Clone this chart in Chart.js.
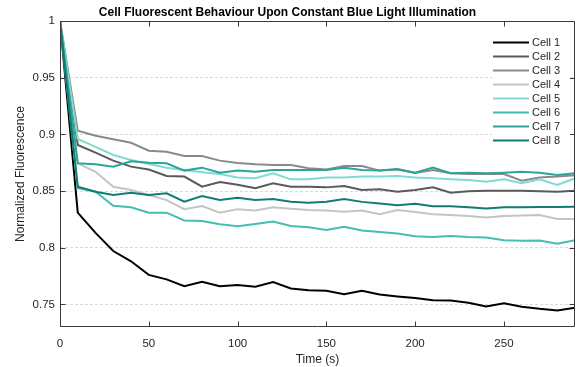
<!DOCTYPE html>
<html><head><meta charset="utf-8">
<script src="https://cdn.jsdelivr.net/npm/chart.js@4.4.1/dist/chart.umd.min.js"></script>
<style>html,body{margin:0;padding:0;background:#fff}canvas{display:block}</style>
</head><body>
<canvas id="c" width="576" height="367"></canvas>
<script>
const times = [0,10,20,30,40,50,60,70,80,90,100,110,120,130,140,150,160,170,180,190,200,210,220,230,240,250,260,270,280,290];
const seriesNames = ['Cell 1','Cell 2','Cell 3','Cell 4','Cell 5','Cell 6','Cell 7','Cell 8'];
const cell1 = [1,0.831,0.813,0.797,0.788,0.776,0.772,0.766,0.770,0.766,0.767,0.7655,0.7696,0.764,0.7625,0.762,0.759,0.762,0.7587,0.757,0.7555,0.7537,0.7534,0.7513,0.748,0.751,0.7478,0.746,0.7446,0.747];
const cell2 = [1,0.8906,0.8838,0.8768,0.8715,0.869,0.8632,0.8627,0.8538,0.858,0.8556,0.8524,0.8568,0.8538,0.8538,0.8532,0.8544,0.8509,0.8515,0.8494,0.8509,0.8532,0.8485,0.8497,0.8503,0.8503,0.8503,0.8497,0.8494,0.8503];
const cell3 = [1,0.9032,0.8988,0.8956,0.8926,0.8856,0.8847,0.8809,0.8809,0.8768,0.8747,0.8735,0.873,0.873,0.870,0.869,0.872,0.872,0.868,0.869,0.866,0.8685,0.8656,0.865,0.865,0.865,0.8591,0.862,0.8627,0.864];
const cell4 = [1,0.8744,0.867,0.8538,0.8509,0.8465,0.842,0.8339,0.8368,0.8309,0.834,0.8327,0.8356,0.8344,0.8333,0.8327,0.8318,0.8328,0.8294,0.8332,0.8315,0.8295,0.8288,0.828,0.8266,0.828,0.8284,0.8288,0.8254,0.8252];
const cell5 = [1,0.8959,0.889,0.8818,0.8774,0.8738,0.8706,0.8685,0.8665,0.865,0.862,0.8612,0.8656,0.8603,0.8603,0.862,0.862,0.8627,0.8627,0.8632,0.862,0.8612,0.8603,0.8597,0.8582,0.8603,0.8568,0.8603,0.8553,0.8612];
const cell6 = [1,0.8524,0.8494,0.837,0.8356,0.8309,0.8309,0.824,0.8235,0.8206,0.819,0.8209,0.823,0.8191,0.818,0.8155,0.8185,0.8152,0.8139,0.8125,0.8101,0.8095,0.8104,0.8095,0.809,0.8066,0.806,0.8063,0.8034,0.8066];
const cell7 = [1,0.8744,0.8735,0.8715,0.8762,0.875,0.8744,0.868,0.8706,0.8662,0.868,0.867,0.8685,0.8685,0.8685,0.8685,0.8706,0.8685,0.868,0.8694,0.8662,0.8706,0.8656,0.8662,0.8656,0.8662,0.867,0.8662,0.8641,0.8656];
const cell8 = [1,0.8538,0.8494,0.8465,0.8485,0.8465,0.848,0.8406,0.8456,0.842,0.8441,0.842,0.843,0.8406,0.8397,0.8406,0.843,0.8404,0.839,0.8374,0.8388,0.8366,0.8366,0.8357,0.8345,0.8356,0.8357,0.8358,0.8358,0.836];
const xTicks = [0,50,100,150,200,250];
const yTicks = [0.75,0.8,0.85,0.9,0.95,1];

const allSeries = [cell1,cell2,cell3,cell4,cell5,cell6,cell7,cell8];
const lineColors = ['#000000','#5a5a5a','#8a8a8a','#c4c4c4','#80dbd2','#45bdb1','#2ba597','#107d72'];

const FONT = "'Liberation Sans', Arial, Helvetica, sans-serif";
const TXT = '#262626';
Chart.defaults.font.family = FONT;
Chart.defaults.color = TXT;

const datasets = allSeries.map((vals, i) => ({
  label: seriesNames[i],
  data: times.map((t, j) => ({x: t, y: vals[j]})),
  borderColor: lineColors[i],
  backgroundColor: lineColors[i],
  borderWidth: 2,
  pointRadius: 0,
  tension: 0,
  fill: false
}));
datasets.reverse(); // draw Cell 1 on top

const framePlugin = {
  id: 'frame',
  afterDatasetsDraw(chart) {
    const {ctx, chartArea: a, scales: {x, y}} = chart;
    const L = Math.round(a.left) + 0.5, R = Math.round(a.right) - 0.5;
    const T = Math.round(a.top) + 0.5, B = Math.round(a.bottom) - 0.5;
    ctx.save();
    ctx.strokeStyle = '#3a3a3a';
    ctx.lineWidth = 1;
    ctx.beginPath();
    ctx.moveTo(L, T); ctx.lineTo(R, T); ctx.lineTo(R, B); ctx.lineTo(L, B); ctx.closePath();
    const tl = 5;
    xTicks.forEach(v => {
      const px = Math.round(x.getPixelForValue(v)) + 0.5;
      ctx.moveTo(px, B); ctx.lineTo(px, B - tl);
      ctx.moveTo(px, T); ctx.lineTo(px, T + tl);
    });
    yTicks.forEach(v => {
      const py = Math.round(y.getPixelForValue(v)) + 0.5;
      ctx.moveTo(L, py); ctx.lineTo(L + tl, py);
      ctx.moveTo(R, py); ctx.lineTo(R - tl, py);
    });
    ctx.stroke();
    ctx.restore();
  }
};

const legendPlugin = {
  id: 'boxLegend',
  afterDraw(chart) {
    const {ctx, chartArea: a} = chart;
    const ordered = chart.data.datasets.slice().reverse();
    const bx = a.right - 83, by = a.top + 12, bw = 78, bh = 116;
    ctx.save();
    ctx.fillStyle = '#ffffff';
    ctx.fillRect(bx, by, bw, bh);
    ctx.font = '11px ' + FONT;
    ctx.textBaseline = 'middle';
    ctx.textAlign = 'left';
    ordered.forEach((ds, i) => {
      const cy = a.top + 21.5 + 14 * i;
      ctx.strokeStyle = ds.borderColor;
      ctx.lineWidth = 2;
      ctx.beginPath();
      ctx.moveTo(a.right - 82, cy);
      ctx.lineTo(a.right - 46, cy);
      ctx.stroke();
      ctx.fillStyle = TXT;
      ctx.fillText(ds.label, a.right - 43, cy + 0.5);
    });
    ctx.restore();
  }
};

new Chart(document.getElementById('c'), {
  type: 'line',
  data: {datasets},
  options: {
    responsive: false,
    animation: false,
    events: [],
    layout: {padding: {top: 0, right: 1, bottom: 0, left: 0}},
    plugins: {
      legend: {display: false},
      tooltip: {enabled: false},
      title: {
        display: true,
        text: 'Cell Fluorescent Behaviour Upon Constant Blue Light Illumination',
        color: '#000000',
        font: {size: 12, weight: 'bold', family: FONT},
        padding: {top: 5, bottom: 1.6}
      }
    },
    scales: {
      x: {
        type: 'linear',
        min: 0, max: 290,
        afterBuildTicks: s => { s.ticks = xTicks.map(v => ({value: v})); },
        afterFit: s => { s.height = 40; },
        grid: {display: false, drawTicks: false},
        border: {display: false},
        ticks: {padding: 10, font: {size: 11.5}, color: TXT, maxRotation: 0, callback: v => String(v)},
        title: {display: true, text: 'Time (s)', font: {size: 12}, color: TXT, padding: {top: 0, bottom: 0}}
      },
      y: {
        type: 'linear',
        min: 0.73, max: 1,
        afterBuildTicks: s => { s.ticks = yTicks.map(v => ({value: v})); },
        afterFit: s => { s.width = 60; },
        grid: {display: true, drawTicks: false, color: '#dadada', lineWidth: 1},
        border: {display: false, dash: [3, 2]},
        ticks: {padding: 5, font: {size: 11.5}, color: TXT, callback: v => String(+Number(v).toFixed(2))},
        title: {display: true, text: 'Normalized Fluorescence', font: {size: 12}, color: TXT, padding: {top: 13, bottom: 0}}
      }
    }
  },
  plugins: [framePlugin, legendPlugin]
});
</script>
</body></html>
